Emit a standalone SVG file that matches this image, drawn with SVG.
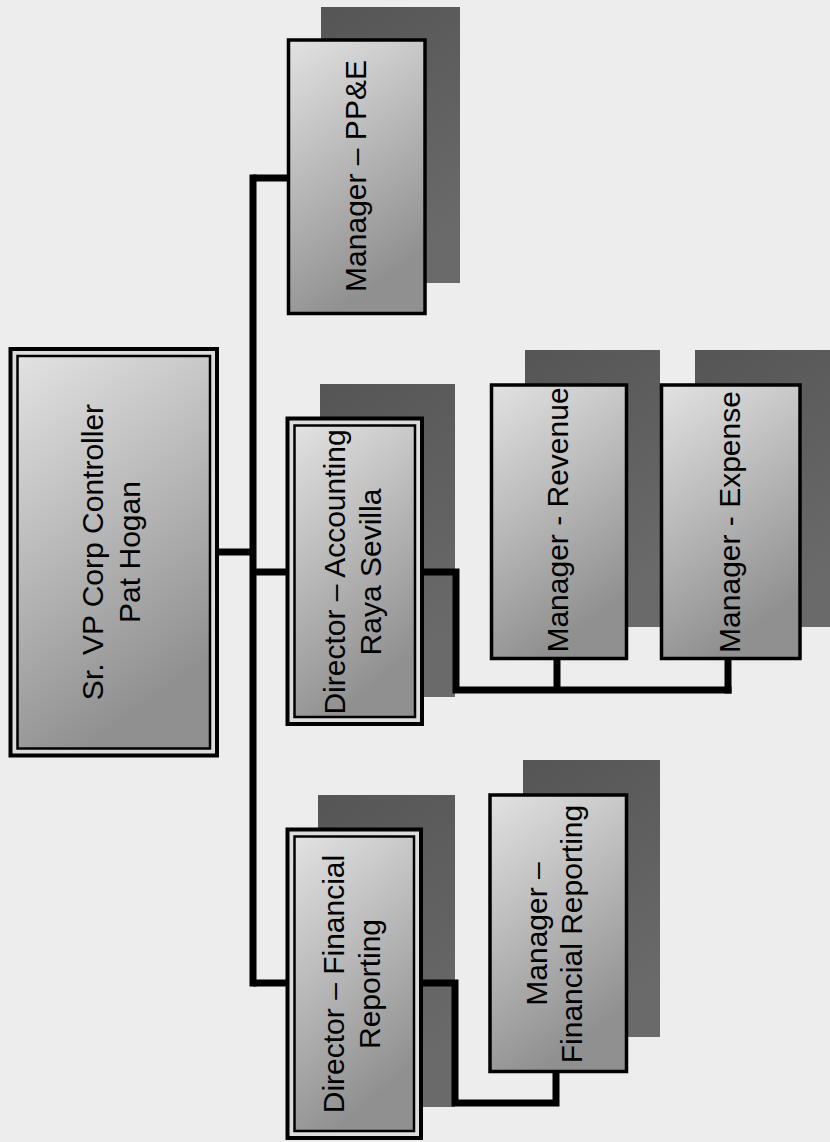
<svg xmlns="http://www.w3.org/2000/svg" width="830" height="1142" viewBox="0 0 830 1142">
<defs>
<linearGradient id="boxfill" x1="0" y1="0" x2="0.35" y2="1">
<stop offset="0" stop-color="#e2e2e2"/>
<stop offset="1" stop-color="#909090"/>
</linearGradient>
<linearGradient id="shadowfill" x1="0" y1="0" x2="0.3" y2="1">
<stop offset="0" stop-color="#555555"/>
<stop offset="1" stop-color="#6a6a6a"/>
</linearGradient>
</defs>
<style>
.bg{fill:#ededed}
.shadow{fill:url(#shadowfill)}
.box{fill:url(#boxfill);stroke:#000;stroke-width:3.5}
.outer{fill:#dcdcdc;stroke:#000;stroke-width:4}
.inner{fill:url(#boxfill);stroke:#000;stroke-width:2.5}
.lbl{font-family:"Liberation Sans",Arial,sans-serif;font-size:30px;fill:#000;text-anchor:middle}
.conn{fill:none;stroke:#000;stroke-width:7;stroke-linejoin:miter;stroke-linecap:butt}
</style>
<rect class="bg" x="0" y="0" width="830" height="1142"/>

<g id="node-srvp">
<rect class="outer" x="10.5" y="349" width="206.5" height="406.5"/>
<rect class="inner" x="17.5" y="356" width="192.5" height="392.5"/>
<text class="lbl" transform="translate(103,552) rotate(-90)">Sr. VP Corp Controller</text>
<text class="lbl" transform="translate(140,552) rotate(-90)">Pat Hogan</text>
</g>

<g id="node-ppe">
<rect class="shadow" x="321" y="7" width="139" height="276"/>
<rect class="box" x="288.5" y="40" width="136.5" height="273.5"/>
<text class="lbl" transform="translate(366,176) rotate(-90)">Manager – PP&amp;E</text>
</g>

<g id="node-dir-acct">
<rect class="shadow" x="320" y="384" width="135" height="313"/>
<rect class="outer" x="287.5" y="418.5" width="134.5" height="305.5"/>
<rect class="inner" x="294.5" y="425.5" width="120.5" height="291.5"/>
<text class="lbl" transform="translate(345,572) rotate(-90)">Director – Accounting</text>
<text class="lbl" transform="translate(381,572) rotate(-90)">Raya Sevilla</text>
</g>

<g id="node-revenue">
<rect class="shadow" x="525" y="350" width="135" height="277"/>
<rect class="box" x="491.5" y="385" width="135" height="273.5"/>
<text class="lbl" transform="translate(568,520) rotate(-90)">Manager - Revenue</text>
</g>

<g id="node-expense">
<rect class="shadow" x="695" y="350" width="140" height="277"/>
<rect class="box" x="661.5" y="385" width="138.5" height="273.5"/>
<text class="lbl" transform="translate(740,522) rotate(-90)">Manager - Expense</text>
</g>

<g id="node-dir-fr">
<rect class="shadow" x="318" y="795" width="137" height="312"/>
<rect class="outer" x="287.5" y="829.5" width="133.5" height="308.5"/>
<rect class="inner" x="294.5" y="836.5" width="119.5" height="294.5"/>
<text class="lbl" transform="translate(344,984) rotate(-90)">Director – Financial</text>
<text class="lbl" transform="translate(380,984) rotate(-90)">Reporting</text>
</g>

<g id="node-mgr-fr">
<rect class="shadow" x="523" y="760" width="137" height="277"/>
<rect class="box" x="490" y="795" width="136.5" height="276.5"/>
<text class="lbl" transform="translate(547,934) rotate(-90)">Manager –</text>
<text class="lbl" transform="translate(582,934) rotate(-90)">Financial Reporting</text>
</g>

<g id="connectors">
<path class="conn" d="M217 552 H253"/>
<path class="conn" d="M253 174.5 V986.5"/>
<path class="conn" d="M253 178 H288.5"/>
<path class="conn" d="M253 572 H287.5"/>
<path class="conn" d="M253 983 H287.5"/>
<path class="conn" d="M422 572 H456 V690 H731.5"/>
<path class="conn" d="M557 658.5 V690"/>
<path class="conn" d="M728 658.5 V693.5"/>
<path class="conn" d="M421 983 H455 V1103 H556 V1071.5"/>
</g>
</svg>
